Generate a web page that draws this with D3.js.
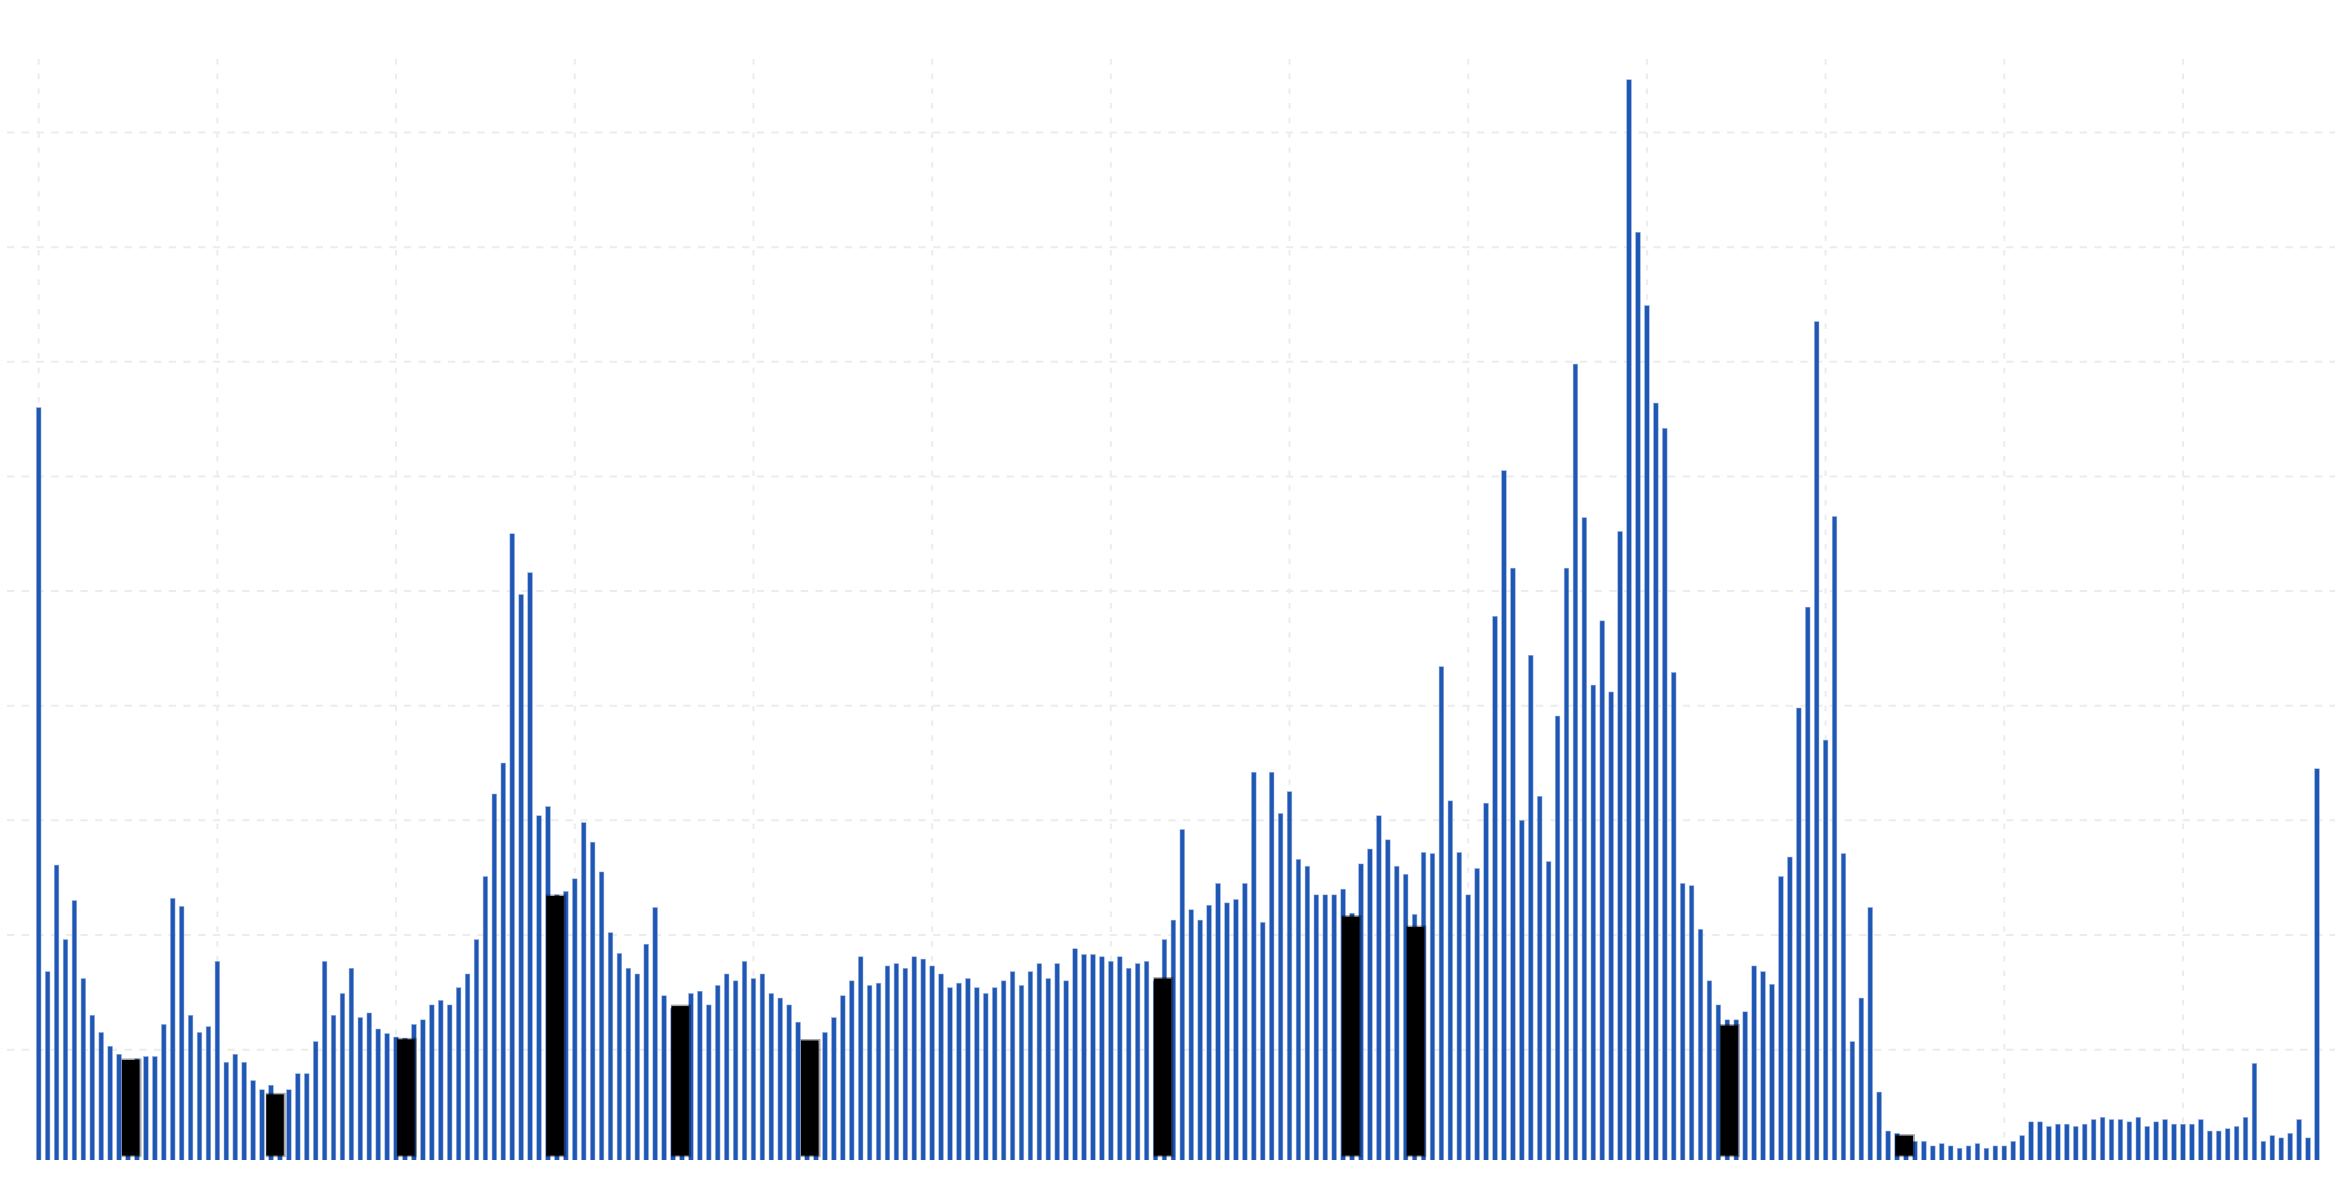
<!DOCTYPE html>
<html><head><meta charset="utf-8">
<script src="https://cdn.jsdelivr.net/npm/d3@7"></script>
<style>html,body{margin:0;padding:0;background:#fff;overflow:hidden}</style>
</head><body>
<svg id="chart" width="2335" height="1182"></svg>
<script>
// ---- data ----
const categories = d3.range(256); // one bar per period, index 0..255
const values = [
6.60,1.68,2.61,1.96,2.30,1.62,1.30,1.15,1.03,0.96,
0.90,0.92,0.94,0.94,1.22,2.32,2.25,1.30,1.15,1.20,
1.77,0.89,0.96,0.89,0.73,0.65,0.69,0.60,0.65,0.79,
0.79,1.07,1.77,1.30,1.49,1.71,1.28,1.32,1.18,1.14,
1.11,1.10,1.22,1.26,1.39,1.43,1.39,1.54,1.66,1.96,
2.51,3.23,3.50,5.50,4.97,5.16,3.04,3.12,2.35,2.38,
2.49,2.98,2.81,2.55,2.02,1.84,1.71,1.66,1.92,2.24,
1.47,1.36,1.35,1.49,1.51,1.39,1.56,1.66,1.60,1.77,
1.62,1.66,1.49,1.45,1.39,1.24,1.05,1.05,1.15,1.28,
1.47,1.60,1.81,1.56,1.58,1.73,1.75,1.71,1.81,1.79,
1.73,1.66,1.54,1.58,1.62,1.54,1.49,1.54,1.60,1.68,
1.56,1.68,1.75,1.62,1.75,1.60,1.88,1.83,1.83,1.81,
1.77,1.81,1.71,1.75,1.77,1.60,1.96,2.13,2.92,2.22,
2.13,2.26,2.45,2.28,2.31,2.45,3.42,2.11,3.42,3.06,
3.25,2.66,2.60,2.35,2.35,2.35,2.40,2.19,2.62,2.75,
3.04,2.83,2.60,2.53,2.18,2.72,2.71,4.34,3.17,2.72,
2.35,2.58,3.15,4.78,6.05,5.20,3.00,4.44,3.21,2.64,
3.91,5.20,6.98,5.64,4.18,4.74,4.12,5.52,9.46,8.13,
7.49,6.64,6.42,4.29,2.45,2.43,2.05,1.60,1.39,1.26,
1.26,1.33,1.73,1.68,1.57,2.51,2.68,3.98,4.86,7.35,
3.70,5.65,2.71,1.07,1.45,2.24,0.63,0.29,0.27,0.22,
0.20,0.20,0.16,0.18,0.16,0.14,0.16,0.18,0.14,0.16,
0.16,0.20,0.25,0.37,0.37,0.33,0.35,0.35,0.33,0.35,
0.39,0.41,0.39,0.39,0.37,0.41,0.33,0.37,0.39,0.35,
0.35,0.35,0.39,0.29,0.29,0.31,0.33,0.41,0.88,0.20,
0.25,0.23,0.27,0.39,0.23,3.45
];
// highlighted (black) periods: position on the same index axis, and value
const highlightAt = [10.3, 26.45, 41.1, 57.8, 71.8, 86.3, 125.8, 146.85, 154.1, 189.2, 208.8];
const highlightValues = [0.91, 0.61, 1.09, 2.34, 1.38, 1.08, 1.62, 2.16, 2.07, 1.21, 0.25];
// gridlines
const yTicks = [1,2,3,4,5,6,7,8,9];
const xTicks = d3.range(0, 241, 20);

// ---- layout ----
const W = 2335, H = 1182;
const plot = {left: 7, right: 2335, top: 59, bottom: 1160};
const svg = d3.select('#chart');

const x = d3.scaleLinear().domain([0, 255]).range([38.7, 2317]);
const step = x(1) - x(0);
const y = d3.scaleLinear().domain([0, 9]).range([1164.3, 132.5]);

const defs = svg.append('defs');
defs.append('clipPath').attr('id', 'plotclip')
  .append('rect').attr('x', 0).attr('y', plot.top)
  .attr('width', W).attr('height', plot.bottom - plot.top);

// gridlines
const grid = svg.append('g').attr('class', 'grid');
grid.selectAll('line.h').data(yTicks).join('line').attr('class', 'h')
  .attr('x1', plot.left).attr('x2', plot.right)
  .attr('y1', d => y(d)).attr('y2', d => y(d))
  .attr('stroke', '#ececec').attr('stroke-width', 2)
  .attr('stroke-dasharray', '7.3,7.4');
grid.selectAll('line.v').data(xTicks).join('line').attr('class', 'v')
  .attr('x1', d => x(d)).attr('x2', d => x(d))
  .attr('y1', plot.top).attr('y2', plot.bottom)
  .attr('stroke', '#ececec').attr('stroke-width', 2)
  .attr('stroke-dasharray', '5.5,9.2');

const g = svg.append('g').attr('clip-path', 'url(#plotclip)');
const bw = step * 0.52;
g.selectAll('rect.bar').data(categories).join('rect').attr('class', 'bar')
  .attr('x', d => x(d) - bw / 2)
  .attr('width', bw)
  .attr('y', d => y(values[d]))
  .attr('height', d => y(0) - y(values[d]))
  .attr('fill', '#1f57b5')
  .attr('stroke', '#9db4e0').attr('stroke-width', 0.5);

// highlighted black periods
const hb = svg.append('g');
const hw = step * 1.96;
const hBase = 1155.6;
const hData = highlightAt.map((p, i) => ({p, v: highlightValues[i]}));
hb.selectAll('rect.shadow').data(hData).join('rect').attr('class', 'shadow')
  .attr('x', d => x(d.p) - hw / 2 - 0.5)
  .attr('y', d => y(d.v) - 1.5)
  .attr('width', hw + 2.5)
  .attr('height', d => hBase - y(d.v) + 3)
  .attr('fill', 'rgba(0,0,0,0.35)');
hb.selectAll('rect.hl').data(hData).join('rect').attr('class', 'hl')
  .attr('x', d => x(d.p) - hw / 2)
  .attr('y', d => y(d.v))
  .attr('width', hw)
  .attr('height', d => hBase - y(d.v))
  .attr('fill', '#000');
</script>
</body></html>
